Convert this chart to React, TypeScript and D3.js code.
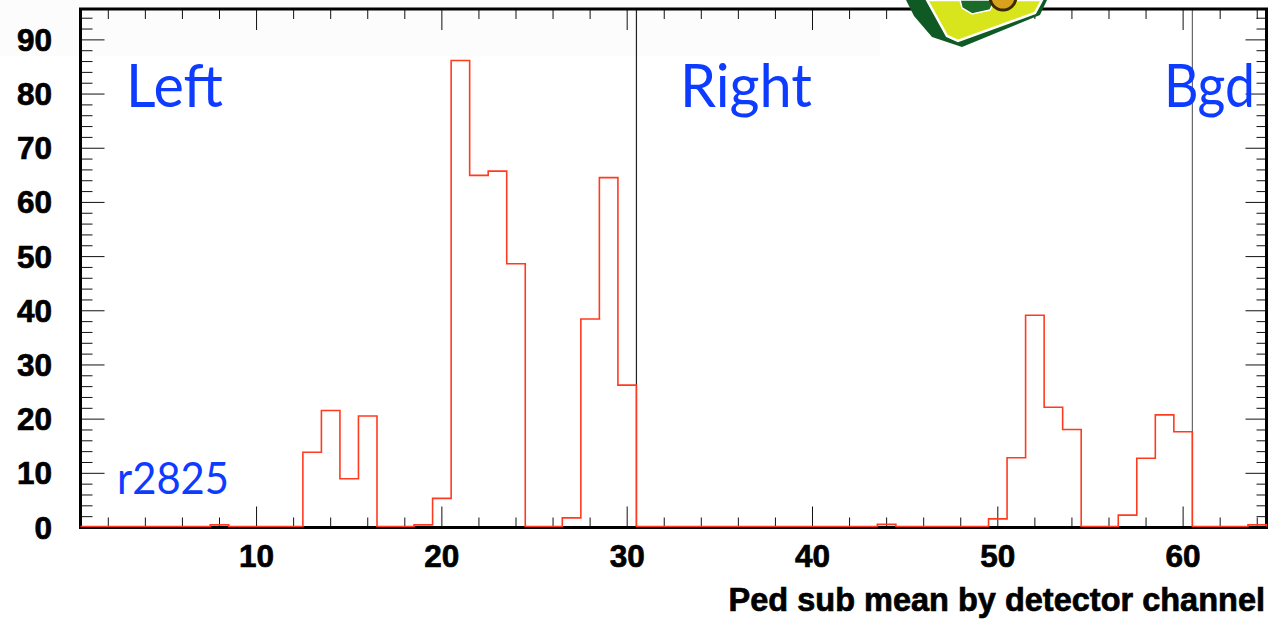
import * as d3 from "d3"
import React from "react"

// channel counts, bins 1..64
const counts = [
  0, 0, 0, 0, 0, 0, 0, 0.3, 0, 0, 0, 0, 13.7, 21.4, 8.8, 20.4,
  0, 0, 0.3, 5.2, 86, 64.8, 65.6, 48.5, 0, 0, 1.6, 38.3, 64.4, 26.1, 0, 0,
  0, 0, 0, 0, 0, 0, 0, 0, 0, 0, 0, 0.4, 0, 0, 0, 0,
  0, 1.4, 12.7, 39.0, 22.0, 17.9, 0, 0, 2.1, 12.6, 20.6, 17.5, 0, 0, 0, 0.3
]
const yTickLabels = [0, 10, 20, 30, 40, 50, 60, 70, 80, 90]
const xTickLabels = [10, 20, 30, 40, 50, 60]
const separators = [30.5, 60.5]
const regionLabels = ["Left", "Right", "Bgd"]
const runLabel = "r2825"
const xTitle = "Ped sub mean by detector channel"

const W = 1272, H = 619
const frame = { left: 80.5, right: 1266.5, top: 9, bottom: 527.5 }

export default function App() {
  const x = d3.scaleLinear().domain([0.5, 64.5]).range([frame.left, frame.right])
  const y = d3.scaleLinear().domain([0, 95.7]).range([frame.bottom, frame.top])

  // outline of the histogram, drawn as steps
  const pts: [number, number][] = [[0.5, 0]]
  counts.forEach((c, i) => pts.push([i + 0.5, c]))
  pts.push([64.5, counts[counts.length - 1]])
  pts.push([64.5, 0])
  const step = d3.line<[number, number]>()
    .x(d => x(d[0]))
    .y(d => y(d[1]) - 1)
    .curve(d3.curveStepAfter)

  const xMinor = d3.range(2, 65, 2)
  const yMinor = d3.range(0, 95, 2)
  const font = "'Liberation Sans', Arial, Helvetica, sans-serif"
  const blue = "#0d3bff"
  const blueFont = "Lato, 'Open Sans', sans-serif"

  return (
    <svg width={W} height={H} style={{ position: "absolute", left: 0, top: 0, background: "#fff" }}>
      <rect x={0} y={0} width={880} height={56} fill="#fcfcfc" />

      {/* ticks */}
      <g stroke="#111" strokeWidth={1}>
        {xMinor.map(v => {
          const major = v % 10 === 0
          const len = major ? 21 : 10
          return (
            <g key={"x" + v}>
              <line x1={x(v)} x2={x(v)} y1={frame.bottom} y2={frame.bottom - len} />
              <line x1={x(v)} x2={x(v)} y1={frame.top} y2={frame.top + len} />
            </g>
          )
        })}
        {yMinor.map(v => {
          const major = v % 10 === 0
          return (
            <g key={"y" + v}>
              <line x1={frame.left} x2={frame.left + (major ? 24 : 12)} y1={y(v)} y2={y(v)} />
              <line x1={frame.right} x2={frame.right - (major ? 21 : 10)} y1={y(v)} y2={y(v)} />
            </g>
          )
        })}
      </g>

      {/* region separators */}
      {separators.map((s, i) => (
        <line key={s} x1={x(s)} x2={x(s)} y1={frame.top} y2={frame.bottom}
          stroke={i === 0 ? "#222" : "#666"} strokeWidth={1.2} />
      ))}

      <rect x={frame.left} y={frame.top} width={frame.right - frame.left} height={frame.bottom - frame.top}
        fill="none" stroke="#000" strokeWidth={3} />

      <path d={step(pts) || ""} fill="none" stroke="#ff3b1f" strokeWidth={1.6} />

      {/* tick labels */}
      <g fontFamily={font} fontWeight="bold" fontSize={31.5} fill="#000" stroke="#000" strokeWidth={0.7}>
        {yTickLabels.map(v => (
          <text key={v} x={52} y={y(v) + 11} textAnchor="end">{v}</text>
        ))}
        {xTickLabels.map(v => (
          <text key={v} x={x(v)} y={567} textAnchor="middle">{v}</text>
        ))}
        <text x={1265} y={611} textAnchor="end" fontSize={32.5}>{xTitle}</text>
      </g>

      {/* region annotations */}
      <g fontFamily={blueFont} fill={blue}>
        <text x={126} y={107} fontSize={60} textLength={97} lengthAdjust="spacingAndGlyphs">{regionLabels[0]}</text>
        <text x={680} y={107} fontSize={60} textLength={132} lengthAdjust="spacingAndGlyphs">{regionLabels[1]}</text>
        <text x={1164} y={107} fontSize={60} textLength={91} lengthAdjust="spacingAndGlyphs">{regionLabels[2]}</text>
        <text x={117} y={494} fontSize={44} textLength={112} lengthAdjust="spacingAndGlyphs">{runLabel}</text>
      </g>

      {/* logo, cut off at the top edge */}
      <g>
        <polygon points="906,0 1047,0 1040,15 962,47 932,37 914,16" fill="#0f5a24" />
        <polygon points="927,0 1042,0 1035,13 958,41 947,36" fill="#d9e51c" stroke="#fff" strokeWidth={2.5} />
        <polygon points="960,0 995,0 990,10 972,14 962,8" fill="#1a6a2a" stroke="#fff" strokeWidth={1.5} />
        <circle cx={1003} cy={-3} r={13} fill="#d9a21c" stroke="#3a2a05" strokeWidth={3} />
      </g>
    </svg>
  )
}
